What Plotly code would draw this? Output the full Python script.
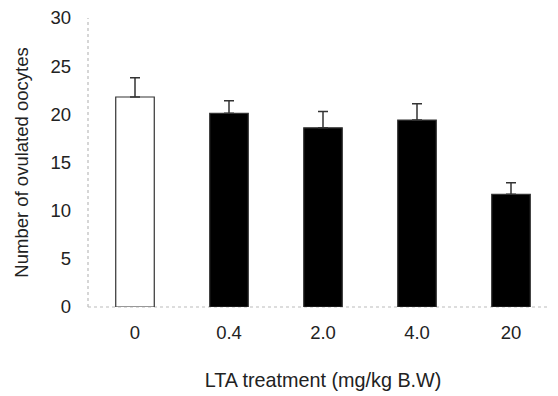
import plotly.graph_objects as go

categories = ["0", "0.4", "2.0", "4.0", "20"]
means = [21.8, 20.1, 18.6, 19.4, 11.7]
sem = [2.0, 1.3, 1.7, 1.7, 1.2]
fill_colors = ["white", "black", "black", "black", "black"]
y_ticks = [0, 5, 10, 15, 20, 25, 30]

fig = go.Figure()
fig.add_trace(go.Bar(
    x=categories, y=means,
    marker=dict(color=fill_colors, line=dict(color="#333333", width=1.2)),
    width=0.41,
    error_y=dict(type="data", array=sem, arrayminus=[0]*len(sem), symmetric=False,
                 color="#333333", thickness=1.5, width=5),
))

family = "Liberation Sans, Arial, sans-serif"
font = dict(family=family, size=18.5, color="#222222")
fig.update_layout(
    width=550, height=388,
    margin=dict(l=80, r=0, t=10, b=89),
    paper_bgcolor="white", plot_bgcolor="white",
    font=font, showlegend=False, bargap=0.59,
)
fig.update_xaxes(
    type="category", range=[-0.5, 4.5], showgrid=False, showline=False,
    zeroline=False, ticks="", ticklabelstandoff=12, ticklabeloverflow="allow",
    title=dict(text="LTA treatment (mg/kg B.W)", standoff=31,
               font=dict(family=family, size=19.8, color="#222222")),
)
fig.update_yaxes(
    range=[0, 30], tickvals=y_ticks, showgrid=False, showline=False,
    zeroline=False, ticks="", ticklabelstandoff=16, ticklabeloverflow="allow",
    title=dict(text="Number of ovulated oocytes", standoff=16, font=font),
)
line_style = dict(color="#bbbbbb", width=1.2, dash="dot")
fig.add_shape(type="line", xref="paper", yref="paper", x0=0, x1=0, y0=0, y1=1, line=line_style, layer="below")
fig.add_shape(type="line", xref="paper", yref="paper", x0=0, x1=1, y0=0, y1=0, line=line_style, layer="below")

fig.write_html("out.html")
